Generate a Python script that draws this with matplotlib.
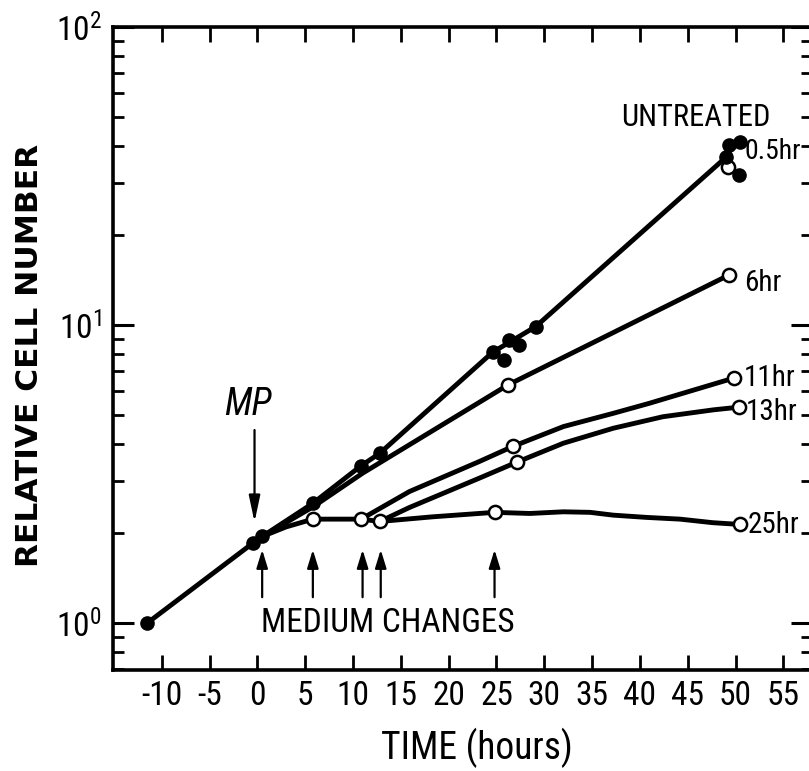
import math

import matplotlib
matplotlib.use("Agg")
import matplotlib.pyplot as plt
from matplotlib import font_manager as fm
from matplotlib.ticker import FixedLocator, FuncFormatter, NullFormatter


def first_family(names, fallback="DejaVu Sans"):
    for name in names:
        try:
            fm.findfont(fm.FontProperties(family=name), fallback_to_default=False)
            return name
        except Exception:
            continue
    return fallback


NARROW = first_family(["Liberation Sans Narrow", "Roboto Condensed",
                       "Open Sans Condensed", "Liberation Sans"])

plt.rcParams["font.family"] = [NARROW, "DejaVu Sans"]
plt.rcParams["axes.unicode_minus"] = False
plt.rcParams["mathtext.fontset"] = "custom"
plt.rcParams["mathtext.rm"] = NARROW
plt.rcParams["mathtext.it"] = NARROW + ":italic"
plt.rcParams["mathtext.bf"] = NARROW + ":bold"

# ---------------- data (time in hours, relative cell number) ----------------
# untreated cultures: measured points
untreated_t = [-11.5, -0.5, 0.5, 5.8, 10.8, 12.8, 24.6, 25.8, 26.3, 27.4, 29.1,
               49.3, 50.5, 49.0, 50.4]
untreated_n = [1.0, 1.85, 1.95, 2.52, 3.36, 3.71, 8.14, 7.63, 8.91, 8.57, 9.87,
               40.2, 41.0, 36.5, 31.9]
# untreated growth curve
untreated_curve_t = [-11.5, -0.5, 0.5, 5.8, 10.8, 12.8, 24.6, 29.1, 49.4]
untreated_curve_n = [1.0, 1.85, 1.95, 2.52, 3.36, 3.71, 8.1, 9.87, 37.5]

# 0.5 hr exposure
half_hr_t = [49.2]
half_hr_n = [34.0]

# 6 hr exposure
six_hr_curve_t = [0.5, 5.8, 11.0, 26.2, 49.3]
six_hr_curve_n = [1.95, 2.45, 3.18, 6.29, 14.7]
six_hr_t = [26.2, 49.3]
six_hr_n = [6.29, 14.7]

# 11 hr exposure
eleven_hr_curve_t = [10.85, 15.9, 23.2, 26.7, 32.0, 37.2, 41.0, 49.8]
eleven_hr_curve_n = [2.23, 2.76, 3.48, 3.91, 4.56, 5.05, 5.46, 6.63]
eleven_hr_t = [26.7, 49.8]
eleven_hr_n = [3.91, 6.63]

# 13 hr exposure
thirteen_hr_curve_t = [12.8, 15.9, 23.2, 27.1, 32.0, 37.2, 42.4, 47.7, 50.4]
thirteen_hr_curve_n = [2.19, 2.44, 3.06, 3.46, 4.01, 4.50, 4.92, 5.19, 5.30]
thirteen_hr_t = [27.1, 50.4]
thirteen_hr_n = [3.46, 5.30]

# 25 hr exposure (flat, medium-change points)
twentyfive_hr_curve_t = [0.5, 3.0, 5.8, 10.85, 12.8, 18.3, 24.8, 28.5, 32.0,
                         34.8, 37.2, 40.7, 44.2, 47.6, 50.5]
twentyfive_hr_curve_n = [1.95, 2.10, 2.23, 2.23, 2.19, 2.27, 2.35, 2.33, 2.36,
                         2.35, 2.30, 2.26, 2.23, 2.17, 2.14]
twentyfive_hr_t = [5.8, 10.85, 12.8, 24.8, 50.5]
twentyfive_hr_n = [2.23, 2.23, 2.19, 2.35, 2.14]

# times of medium changes and of MP addition
medium_change_t = [0.5, 5.8, 11.0, 12.9, 24.8]
mp_t = -0.3

x_ticks = [-10, -5, 0, 5, 10, 15, 20, 25, 30, 35, 40, 45, 50, 55]

# ---------------- figure ----------------
W, H = 809, 771
fig = plt.figure(figsize=(W / 100, H / 100), dpi=100)
left, right, top, bottom = 113, 812, 27, 670
ax = fig.add_axes([left / W, (H - bottom) / H, (right - left) / W, (bottom - top) / H])

ax.set_yscale("log")
ax.set_xlim(-15.1, 58.0)
ax.set_ylim(0.695, 100)

LW = 3.5
line_kw = dict(color="black", lw=LW, solid_capstyle="round", solid_joinstyle="round", zorder=2)
open_kw = dict(ls="none", marker="o", ms=9.5, mfc="white", mec="black", mew=1.8, zorder=4)
fill_kw = dict(ls="none", marker="o", ms=9.5, mfc="black", mec="black", mew=1.0, zorder=4)

ax.plot(untreated_curve_t, untreated_curve_n, **line_kw)
ax.plot(six_hr_curve_t, six_hr_curve_n, **line_kw)
ax.plot(eleven_hr_curve_t, eleven_hr_curve_n, **line_kw)
ax.plot(thirteen_hr_curve_t, thirteen_hr_curve_n, **line_kw)
ax.plot(twentyfive_hr_curve_t, twentyfive_hr_curve_n, **line_kw)

ax.plot(half_hr_t, half_hr_n, **open_kw)
ax.plot(six_hr_t, six_hr_n, **open_kw)
ax.plot(eleven_hr_t, eleven_hr_n, **open_kw)
ax.plot(thirteen_hr_t, thirteen_hr_n, **open_kw)
ax.plot(twentyfive_hr_t, twentyfive_hr_n, **open_kw)
ax.plot(untreated_t, untreated_n, **fill_kw)

# arrows
for t in medium_change_t:
    ax.annotate("", xy=(t, 1.76), xytext=(t, 1.22),
                arrowprops=dict(arrowstyle="-|>,head_length=0.55,head_width=0.17",
                                lw=1.6, color="black", mutation_scale=20,
                                shrinkA=0, shrinkB=0))
ax.annotate("", xy=(mp_t, 2.18), xytext=(mp_t, 4.44),
            arrowprops=dict(arrowstyle="-|>,head_length=0.8,head_width=0.17",
                            lw=1.6, color="black", mutation_scale=20,
                            shrinkA=0, shrinkB=0))

# annotations
ax.text(-1.0, 5.39, "MP", fontsize=27, style="italic", ha="center", va="center")
ax.text(13.6, 1.0, "MEDIUM CHANGES", fontsize=24, ha="center", va="center")
ax.text(45.9, 49.5, "UNTREATED", fontsize=22, ha="center", va="center")
ax.text(50.9, 38.1, "0.5hr", fontsize=20, ha="left", va="center")
ax.text(50.9, 13.8, "6hr", fontsize=21, ha="left", va="center")
ax.text(50.9, 6.64, "11hr", fontsize=21, ha="left", va="center")
ax.text(51.1, 5.11, "13hr", fontsize=21, ha="left", va="center")
ax.text(51.3, 2.13, "25hr", fontsize=21, ha="left", va="center")

# axes styling
for sp in ax.spines.values():
    sp.set_linewidth(2.6)

ax.xaxis.set_major_locator(FixedLocator(x_ticks))
ax.xaxis.set_major_formatter(FuncFormatter(lambda v, p: f"{v:g}"))
ax.tick_params(axis="x", which="major", direction="in", length=10.5, width=2.0,
               top=True, bottom=True, labelsize=24, pad=7)

ax.yaxis.set_major_locator(FixedLocator([1, 10, 100]))
ax.yaxis.set_major_formatter(FuncFormatter(lambda v, p: r"$10^{%d}$" % round(math.log10(v))))
ax.yaxis.set_minor_locator(FixedLocator([m * 10 ** e for e in (-1, 0, 1) for m in range(2, 10)]))
ax.yaxis.set_minor_formatter(NullFormatter())
ax.tick_params(axis="y", which="major", direction="in", length=15, width=2.2,
               left=True, right=True, labelsize=24, pad=8)
ax.tick_params(axis="y", which="minor", direction="in", length=8, width=2.0,
               left=True, right=True)

ax.set_xlabel("TIME (hours)", fontsize=27)
ax.xaxis.set_label_coords((477 - left) / (right - left), -(748 - bottom) / (bottom - top))
ax.xaxis.label.set_va("center")
fig.text(30 / W, 1 - 355 / H, "RELATIVE CELL NUMBER", rotation=90, fontsize=22.5,
         fontweight="bold", family="DejaVu Sans", ha="center", va="center")

fig.savefig("out.png", dpi=100)
